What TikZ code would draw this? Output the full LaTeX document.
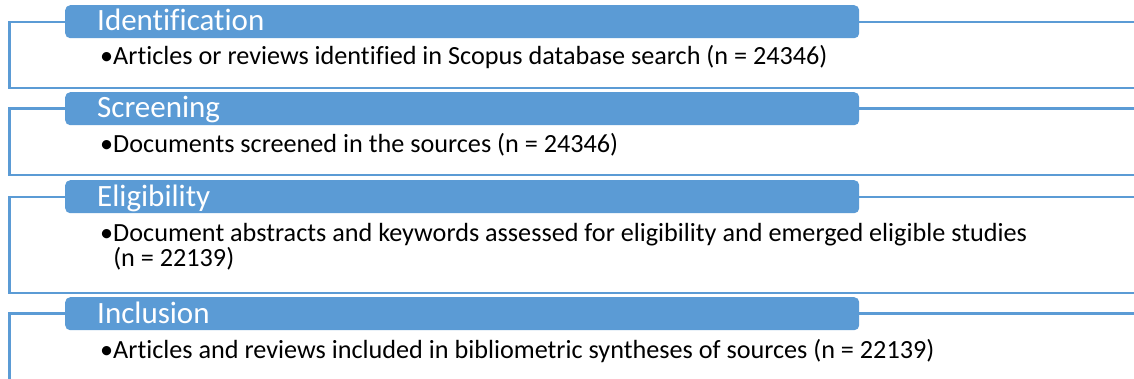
\documentclass[tikz,border=0pt]{standalone}
\usepackage{fontspec}
\setmainfont{Carlito}[Ligatures=NoCommon]
\definecolor{pblue}{RGB}{91,155,213}
\begin{document}
\begin{tikzpicture}[x=1pt,y=-1pt,
  frame/.style={draw=pblue,line width=2.5pt},
  header/.style={fill=pblue,rounded corners=5pt,minimum width=794pt,minimum height=33pt,anchor=north west,inner sep=0},
  htext/.style={anchor=base west,text=white,font=\fontsize{31}{36}\selectfont,inner sep=0},
  btext/.style={anchor=base west,font=\fontsize{26.2}{25.8}\selectfont,inner sep=0,align=left}]
\useasboundingbox (0,0) rectangle (1134,378);
\clip (0,0) rectangle (1134,378);
\fill[white] (0,0) rectangle (1134,378);
% frames
\draw[frame] (9.5,22) rectangle (1200,88);
\draw[frame] (9.5,108.5) rectangle (1200,175);
\draw[frame] (9.5,197) rectangle (1200,293);
\draw[frame] (9.5,313.5) rectangle (1200,420);
% headers
\node[header] (h1) at (65,5) {};
\node[header] (h2) at (65,92) {};
\node[header] (h3) at (65,180) {};
\node[header] (h4) at (65,297) {};
\node[htext] (t1) at (97,30) {Identification};
\node[htext] (t2) at (97,117) {Screening};
\node[htext] (t3) at (97,206) {Eligibility};
\node[htext] (t4) at (97,323) {Inclusion};
% body
\node[btext] (b1) at (100,64) {•Articles or reviews identified in Scopus database search (n = 24346)};
\node[btext] (b2) at (100,152) {•Documents screened in the sources (n = 24346)};
\node[btext] (b3) at (100,266.8) {•Document abstracts and keywords assessed for eligibility and emerged eligible studies\\\phantom{•}(n = 22139)};
\node[btext] (b4) at (100,358) {•Articles and reviews included in bibliometric syntheses of sources (n = 22139)};
\end{tikzpicture}
\end{document}
